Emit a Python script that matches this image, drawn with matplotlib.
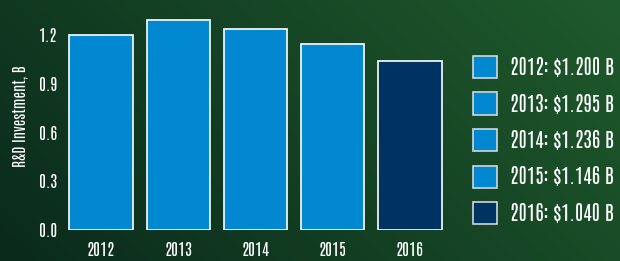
import numpy as np
import matplotlib.pyplot as plt
from matplotlib.patches import Rectangle

years = ["2012", "2013", "2014", "2015", "2016"]
values = [1.200, 1.295, 1.236, 1.146, 1.040]
colors = ["#0288d1", "#0288d1", "#0288d1", "#0288d1", "#003262"]
yticks = [0.0, 0.3, 0.6, 0.9, 1.2]

plt.rcParams["font.family"] = ["Antonio", "League Gothic", "Barlow Condensed",
                               "DejaVu Sans"]

fig = plt.figure(figsize=(6.2, 2.61), dpi=100)

# background gradient
bg = fig.add_axes([0, 0, 1, 1], zorder=-10)
gx, gy = np.meshgrid(np.linspace(0, 1, 200), np.linspace(0, 1, 100))
t = np.clip(0.7 * gx + 0.3 * (1 - gy), 0, 1)
c0 = np.array([0x0a, 0x2a, 0x1c]) / 255
c1 = np.array([0x1f, 0x5a, 0x2c]) / 255
img = c0 + (c1 - c0) * t[..., None]
bg.imshow(img, aspect="auto", extent=[0, 1, 0, 1], origin="upper")
bg.axis("off")

ax = fig.add_axes([62.5 / 620, 31 / 261, 386 / 620, 227.5 / 261])
ax.patch.set_alpha(0)
x = np.arange(len(years))
ax.bar(x, values, width=0.82, color=colors, edgecolor="white", linewidth=1.2)
ax.set_xlim(-0.5, len(years) - 0.5)
ax.set_ylim(0, 1.4)
ax.set_yticks(yticks)
ax.set_yticklabels([f"{v:.1f}" for v in yticks])
ax.set_xticks(x)
ax.set_xticklabels(years)
for s in ax.spines.values():
    s.set_visible(False)
ax.tick_params(length=0, colors="white", labelsize=12)
ax.tick_params(axis="x", pad=9)
ax.tick_params(axis="y", pad=4)
ax.set_ylabel("R&D Investment, B", color="white", fontsize=11, labelpad=8)

# legend
for i, (yr, v, c) in enumerate(zip(years, values, colors)):
    yc = 1 - (67 + i * 36.5) / 261
    fig.patches.append(Rectangle((473 / 620, yc - 11 / 261), 24 / 620, 22 / 261,
                                 transform=fig.transFigure, facecolor=c,
                                 edgecolor="#cfd8dc", linewidth=1.2))
    fig.text(510 / 620, yc, f"{yr}: ${v:.3f} B", color="white", fontsize=14.5,
             fontweight="bold", va="center", ha="left")

fig.savefig("out.png", dpi=100)
